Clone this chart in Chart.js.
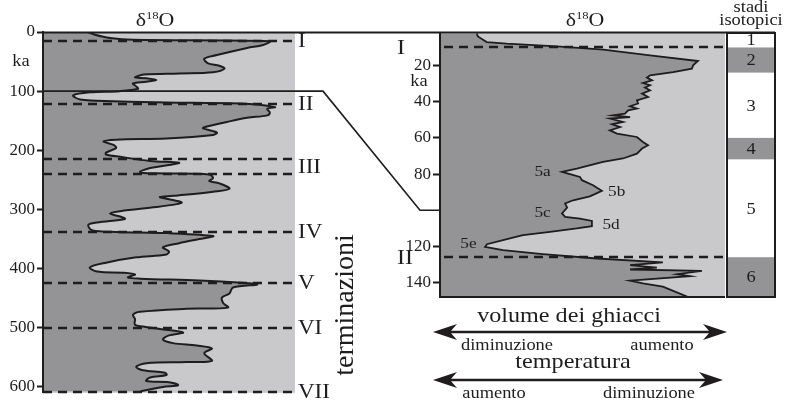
<!DOCTYPE html>
<html lang="it">
<head>
    <meta charset="UTF-8">
    <title>δ18O e terminazioni</title>
    <script src="https://cdn.jsdelivr.net/npm/chart.js"></script>
    <style>
        body { margin: 0; background: #fff; }
        #wrap { position: relative; width: 787px; height: 405px; }
        #wrap canvas { position: absolute; left: 0; top: 0; }
    </style>
</head>
<body>
<div id="wrap">
    <canvas id="leftChart" width="787" height="405"></canvas>
    <canvas id="rightChart" width="787" height="405"></canvas>
</div>
<script>
// left panel: last 600 ka (age in ka, d18O in relative units 0-100)
const leftKa = [0, 4.5, 10, 13, 15.5, 22, 27, 39, 45, 53, 57, 62, 68, 70, 72, 77, 78, 81, 84, 87, 92, 96,
    100, 102, 107, 114, 117, 119, 121, 127, 130, 136, 141, 145, 152, 161, 163, 170, 174, 180, 182, 185, 191, 196,
    204, 207, 211, 218, 221, 225, 230, 237, 239, 241, 247, 252, 256, 265, 270, 277, 279, 282, 288, 291, 296,
    303, 307, 312, 316, 322, 326, 335, 338, 340, 345, 350, 357, 364, 371, 376, 381, 390, 398,
    405, 407, 410, 415, 417, 420, 424, 427, 432, 442, 449, 458, 466, 468, 473, 478, 485, 495, 498,
    502, 508, 513, 520, 526, 530, 535, 543, 556, 558, 560, 566, 572, 576, 580, 584, 590, 592, 597, 600, 603, 608];
const leftD18O = [17.9, 20.6, 26.6, 35.7, 90, 87.3, 81, 69, 64, 65.5, 70, 72, 67.5, 54, 40, 36.5, 41, 45, 41, 35.7, 37, 37.7,
    30.6, 18.7, 12, 14.7, 27.8, 49, 78, 92, 89, 90, 89, 81, 73, 64, 63.5, 69, 67.5, 49, 29, 24, 28, 29,
    25, 25, 30.6, 42.5, 54, 50, 42.5, 38.5, 45, 66, 67.5, 66, 70, 74, 67.5, 51.6, 46.4, 49, 55, 53, 45,
    30.6, 26.6, 30.6, 32.5, 21.4, 18, 19.4, 29, 49, 67.5, 62, 54, 47.6, 50, 49, 37, 25, 18.6,
    21.4, 31.7, 36.5, 33.7, 38.5, 62, 79, 85, 75.4, 74, 71, 71.5, 73.4, 57, 38.5, 35.7, 36.5, 36.5, 39.7,
    46.4, 55.6, 50, 47.6, 51.6, 61, 67, 64, 67, 57, 41, 37, 39.7, 48.4, 49, 42.5, 41, 50, 53.6, 47.6, 43.7, 38.5];
const leftTicks = [0, 100, 200, 300, 400, 500, 600];
const leftDashKa = [15, 121, 215, 240, 338, 424, 500, 608];
const termLabels = ['I', 'II', 'III', 'IV', 'V', 'VI', 'VII'];
const termKa = [15, 121, 227.5, 338, 424, 500, 608];

// right panel: last 150 ka
const rightKa = [2.4, 3.9, 5.7, 7, 7.9, 9.4, 11.2, 14.4, 17.5, 19.9, 21.7, 23.6, 25.4, 26.7, 28.2, 29.7, 30.9,
    32.2, 33.7, 35.5, 37.4, 39.2, 41, 42.5, 43.8, 44.8, 46.6, 47.5, 48.5, 49.3, 51.2, 52.5, 54, 55.8, 57.6,
    59.5, 62.3, 64.1, 65.9, 68.7, 71.4, 73.3, 77, 78.8, 80.1, 81.6, 83.4, 86.2, 89.3, 92.3, 94.5, 96.3, 98.5,
    101.8, 103.7, 104.6, 105.9, 108.8, 110.1, 112, 113.8, 116.6, 118.8, 120.3, 122.1, 124.3, 126.7, 128.9,
    130.4, 131.7, 132.8, 133.5, 135.4, 136.5, 139, 140.5, 142.3, 147.8];
const rightD18O = [12.9, 13.3, 15.1, 16.4, 23.4, 41, 57.3, 73.7, 90.5, 88.8, 88.4, 81.8, 73.7, 72.6, 74.4, 71.2, 73.7,
    71.9, 73.7, 70.9, 73, 69.1, 69.5, 66.7, 69.1, 66, 64.9, 60.7, 66.7, 59.6, 64.2, 60.4, 63.2, 59.6, 62.1,
    69.1, 71.2, 73, 70.9, 69.1, 64.2, 57.2, 48, 42.8, 45.6, 49.1, 49.8, 53.7, 56.8, 52.6, 46.7, 43.9, 44.6,
    42.8, 43.9, 49.1, 53.3, 53.3, 48, 38.6, 29.1, 22.1, 16.5, 15.8, 22.1, 36.1, 55.1, 78.2,
    66.7, 76.1, 66.7, 91.9, 83.2, 87.7, 66.7, 71.2, 78.2, 86.7];
const rightTicks = [20, 40, 60, 80, 120, 140];
const rightDashKa = [10, 126];
const rightTermLabels = ['I', 'II'];
const subStages = ['5a', '5b', '5c', '5d', '5e'];
const subStageKa = [79, 90, 101.7, 108, 119];
const subStageD18O = [36, 62, 36, 60, 10];

// stadi isotopici
const stageLabels = ['1', '2', '3', '4', '5', '6'];
const stageBounds = [2, 10, 24, 60, 72, 126, 148];
const stageShaded = [false, true, false, true, false, true];

const SERIF = '"Liberation Serif", "DejaVu Serif", serif';
const INK = '#1e1c1d';
const DARK = '#949496';
const LIGHT = '#c9c9cb';
const STRETCH = 1.15; // the lettering of the original is a bit wide

// text drawn slightly stretched horizontally
function label(ctx, str, x, y, size, align) {
    ctx.save();
    ctx.font = size + 'px ' + SERIF;
    ctx.textAlign = align || 'center';
    ctx.translate(x, y);
    ctx.scale(STRETCH, 1);
    ctx.fillText(str, 0, 0);
    ctx.restore();
}

function drawD18O(ctx, cx, base) {
    ctx.save();
    ctx.fillStyle = INK;
    ctx.textBaseline = 'alphabetic';
    ctx.textAlign = 'left';
    ctx.font = '19px ' + SERIF;
    const wd = ctx.measureText('δ').width;
    const wo = ctx.measureText('O').width;
    ctx.font = '11px ' + SERIF;
    const ws = ctx.measureText('18').width;
    ctx.translate(cx, base);
    ctx.scale(STRETCH, 1);
    let x = -(wd + ws + wo) / 2;
    ctx.font = '19px ' + SERIF;
    ctx.fillText('δ', x, 0);
    ctx.font = '11px ' + SERIF;
    ctx.fillText('18', x + wd, -7);
    ctx.font = '19px ' + SERIF;
    ctx.fillText('O', x + wd + ws, 0);
    ctx.restore();
}

function dashLine(ctx, x0, x1, y) {
    ctx.save();
    ctx.strokeStyle = INK;
    ctx.lineWidth = 2.5;
    ctx.setLineDash([9, 6]);
    ctx.beginPath();
    ctx.moveTo(x0, y);
    ctx.lineTo(x1, y);
    ctx.stroke();
    ctx.restore();
}

function arrowHead(ctx, x, y, dir) {
    // dir = -1 points left, 1 points right
    ctx.beginPath();
    ctx.moveTo(x, y);
    ctx.lineTo(x - dir * 24, y - 8);
    ctx.lineTo(x - dir * 17, y);
    ctx.lineTo(x - dir * 24, y + 8);
    ctx.closePath();
    ctx.fill();
}

function doubleArrow(ctx, x0, x1, y) {
    ctx.save();
    ctx.strokeStyle = INK;
    ctx.fillStyle = INK;
    ctx.lineWidth = 2.5;
    ctx.beginPath();
    ctx.moveTo(x0 + 10, y);
    ctx.lineTo(x1 - 10, y);
    ctx.stroke();
    arrowHead(ctx, x0, y, -1);
    arrowHead(ctx, x1, y, 1);
    ctx.restore();
}

const panelBg = {
    id: 'panelBg',
    beforeDraw(chart) {
        const a = chart.chartArea;
        chart.ctx.save();
        chart.ctx.fillStyle = LIGHT;
        chart.ctx.fillRect(a.left, a.top, a.right - a.left, a.bottom - a.top);
        chart.ctx.restore();
    }
};

const leftDecor = {
    id: 'leftDecor',
    afterDatasetsDraw(chart) {
        const ctx = chart.ctx, a = chart.chartArea, y = chart.scales.y;
        leftDashKa.forEach(k => dashLine(ctx, a.left, a.right, Math.round(y.getPixelForValue(k))));

        ctx.save();
        ctx.fillStyle = INK;
        ctx.textBaseline = 'middle';
        termLabels.forEach((t, i) => label(ctx, t, a.right + 3, y.getPixelForValue(termKa[i]) + 1, 20, 'left'));
        label(ctx, 'ka', 21, 62, 16);

        // vertical label
        ctx.font = '28px ' + SERIF;
        ctx.textAlign = 'center';
        ctx.textBaseline = 'alphabetic';
        ctx.translate(353, 305);
        ctx.rotate(-Math.PI / 2);
        ctx.fillText('terminazioni', 0, 0);
        ctx.restore();

        drawD18O(ctx, 155, 26);
    }
};

const leftChart = new Chart(document.getElementById('leftChart'), {
    type: 'line',
    data: {
        datasets: [{
            data: leftKa.map((k, i) => ({ x: leftD18O[i], y: k })),
            borderColor: INK,
            borderWidth: 2,
            pointRadius: 0,
            fill: { value: 0 },
            backgroundColor: DARK,
            tension: 0.35
        }]
    },
    options: {
        responsive: false,
        animation: false,
        indexAxis: 'y',
        layout: { padding: { left: 0, top: 32, right: 492, bottom: 12 } },
        plugins: { legend: { display: false }, tooltip: { enabled: false } },
        scales: {
            x: { type: 'linear', min: 0, max: 100, display: false },
            y: {
                type: 'linear', reverse: true, min: 0, max: 610,
                afterFit(s) { s.width = 43; },
                afterBuildTicks(s) { s.ticks = leftTicks.map(v => ({ value: v })); },
                ticks: { font: { family: SERIF, size: 17 }, color: INK, padding: 2 },
                grid: { drawOnChartArea: false, drawTicks: true, tickLength: 6, tickWidth: 2, color: INK },
                border: { display: true, color: INK, width: 2, z: 1 }
            }
        }
    },
    plugins: [panelBg, leftDecor]
});

const rightDecor = {
    id: 'rightDecor',
    afterDatasetsDraw(chart) {
        const ctx = chart.ctx, a = chart.chartArea, y = chart.scales.y, x = chart.scales.x;
        const ly = leftChart.scales.y, la = leftChart.chartArea;

        rightDashKa.forEach(k => dashLine(ctx, a.left + 4, a.right, Math.round(y.getPixelForValue(k))));

        ctx.save();
        ctx.strokeStyle = INK;
        ctx.lineWidth = 2;
        // frame of right panel
        ctx.beginPath();
        ctx.moveTo(a.left, a.top);
        ctx.lineTo(a.left, a.bottom);
        ctx.lineTo(a.right, a.bottom);
        ctx.stroke();

        // stadi isotopici column
        const colL = 727, colR = 775;
        ctx.textBaseline = 'middle';
        stageLabels.forEach((s, i) => {
            const y0 = y.getPixelForValue(stageBounds[i]);
            const y1 = y.getPixelForValue(stageBounds[i + 1]);
            ctx.fillStyle = stageShaded[i] ? DARK : '#fff';
            ctx.fillRect(colL, y0, colR - colL, y1 - y0);
            ctx.fillStyle = INK;
            label(ctx, s, (colL + colR) / 2, (y0 + y1) / 2 + 1, 16);
        });
        ctx.strokeRect(colL, a.top, colR - colL, a.bottom - a.top);
        label(ctx, 'stadi', (colL + colR) / 2, 8, 16);
        label(ctx, 'isotopici', (colL + colR) / 2, 21, 16);

        // long top line and the 100 ka connector
        ctx.beginPath();
        ctx.moveTo(la.left, la.top + 0.5);
        ctx.lineTo(colR, la.top + 0.5);
        ctx.stroke();
        const y100L = ly.getPixelForValue(100), y100R = y.getPixelForValue(100);
        ctx.lineWidth = 1.6;
        ctx.beginPath();
        ctx.moveTo(la.left, y100L);
        ctx.lineTo(323, y100L);
        ctx.lineTo(420, y100R);
        ctx.lineTo(a.left, y100R);
        ctx.stroke();

        // labels in the panel
        ctx.fillStyle = INK;
        rightTermLabels.forEach((t, i) => label(ctx, t, 397, y.getPixelForValue(rightDashKa[i]) + 1, 21, 'left'));
        subStages.forEach((s, i) => label(ctx, s, x.getPixelForValue(subStageD18O[i]), y.getPixelForValue(subStageKa[i]), 15));
        label(ctx, 'ka', 419, 82, 16);

        // bottom arrows
        doubleArrow(ctx, 433, 727, 332);
        doubleArrow(ctx, 433, 723, 380);
        label(ctx, 'volume dei ghiacci', 569, 316, 21);
        label(ctx, 'temperatura', 573, 362, 21);
        label(ctx, 'diminuzione', 507, 346, 16);
        label(ctx, 'aumento', 662, 346, 16);
        label(ctx, 'aumento', 494, 394, 16);
        label(ctx, 'diminuzione', 649, 394, 16);
        ctx.restore();

        drawD18O(ctx, 585, 26);
    }
};

const rightChart = new Chart(document.getElementById('rightChart'), {
    type: 'line',
    data: {
        datasets: [{
            data: rightKa.map((k, i) => ({ x: rightD18O[i], y: k })),
            borderColor: INK,
            borderWidth: 1.8,
            pointRadius: 0,
            fill: { value: 0 },
            backgroundColor: DARK,
            tension: 0
        }]
    },
    options: {
        responsive: false,
        animation: false,
        indexAxis: 'y',
        layout: { padding: { left: 390, top: 33, right: 62, bottom: 108 } },
        plugins: { legend: { display: false }, tooltip: { enabled: false } },
        scales: {
            x: { type: 'linear', min: 0, max: 100, display: false },
            y: {
                type: 'linear', reverse: true, min: 2, max: 148,
                afterFit(s) { s.width = 50; },
                afterBuildTicks(s) { s.ticks = rightTicks.map(v => ({ value: v })); },
                ticks: { font: { family: SERIF, size: 17 }, color: INK, padding: 2 },
                grid: { drawOnChartArea: false, drawTicks: true, tickLength: 7, tickWidth: 2, color: INK },
                border: { display: false }
            }
        }
    },
    plugins: [panelBg, rightDecor]
});
</script>
</body>
</html>
